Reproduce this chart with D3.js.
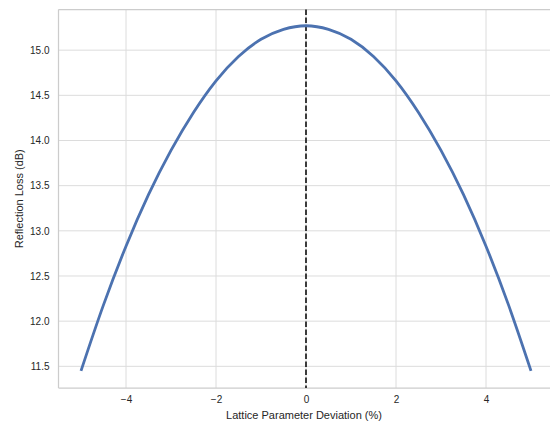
<html>
  <head>
    <meta charset="utf-8">
    <title>reflection loss</title>
    <script src="https://cdn.jsdelivr.net/npm/d3@7"></script>
    <style>
body { margin: 0; background: #fff; }
text { font-family: "Liberation Sans", Arial, sans-serif; fill: #262626; }
.grid line { stroke: #dcdcdc; stroke-width: 1px; }
.spine { stroke: #cccccc; stroke-width: 1.25px; }
    </style>
  </head>
  <body>
    <script>

// values
var deviation = [-5, -4.5, -4, -3.5, -3, -2.5, -2, -1.5, -1, -0.5, 0, 0.5, 1, 1.5, 2, 2.5, 3, 3.5, 4, 4.5, 5];
var loss = [11.45, 12.18, 12.83, 13.40, 13.89, 14.31, 14.66, 14.93, 15.12, 15.23, 15.27,
            15.23, 15.12, 14.93, 14.66, 14.31, 13.89, 13.40, 12.83, 12.18, 11.45];
var xTicks = [-4, -2, 0, 2, 4];
var yTicks = [11.5, 12.0, 12.5, 13.0, 13.5, 14.0, 14.5, 15.0];

var width = 550, height = 423;
var plotL = 58.5, plotR = 553.5, plotT = 9.5, plotB = 388;

var x = d3.scaleLinear().domain([-5.5, 5.5]).range([plotL, plotR]);
var y = d3.scaleLinear().domain([11.26, 15.45]).range([plotB, plotT]);

var svg = d3.select("body").append("svg")
    .attr("width", width)
    .attr("height", height);

// grid
svg.append("g").attr("class", "grid")
  .selectAll("line").data(xTicks).enter().append("line")
    .attr("x1", d => x(d)).attr("x2", d => x(d))
    .attr("y1", plotT).attr("y2", plotB);
svg.append("g").attr("class", "grid")
  .selectAll("line").data(yTicks).enter().append("line")
    .attr("x1", plotL).attr("x2", plotR)
    .attr("y1", d => y(d)).attr("y2", d => y(d));

// spines
svg.append("line").attr("class", "spine").attr("x1", plotL).attr("x2", plotL).attr("y1", plotT).attr("y2", plotB);
svg.append("line").attr("class", "spine").attr("x1", plotL).attr("x2", plotR).attr("y1", plotB).attr("y2", plotB);
svg.append("line").attr("class", "spine").attr("x1", plotL).attr("x2", plotR).attr("y1", plotT).attr("y2", plotT);

// axes
var xAxis = svg.append("g")
    .attr("transform", "translate(0," + plotB + ")")
    .call(d3.axisBottom(x).tickValues(xTicks).tickSize(0).tickPadding(8)
      .tickFormat(d => d < 0 ? "\u2212" + Math.abs(d) : d));
var yAxis = svg.append("g")
    .attr("transform", "translate(" + plotL + ",0)")
    .call(d3.axisLeft(y).tickValues(yTicks).tickSize(0).tickPadding(9).tickFormat(d3.format(".1f")));
[xAxis, yAxis].forEach(function(a) {
  a.select(".domain").remove();
  a.selectAll("text").style("font-size", "10px").attr("fill", "#262626");
});

// dashed line at zero
svg.append("line")
    .attr("x1", x(0)).attr("x2", x(0))
    .attr("y1", plotT).attr("y2", plotB)
    .attr("stroke", "#000").attr("stroke-width", 1.5)
    .attr("stroke-dasharray", "5.5,2.5");

// curve
var line = d3.line()
    .x((d, i) => x(deviation[i]))
    .y(d => y(d))
    .curve(d3.curveMonotoneX);
svg.append("path")
    .datum(loss)
    .attr("d", line)
    .attr("fill", "none")
    .attr("stroke", "#4c72b0")
    .attr("stroke-width", 2.8);

// labels
svg.append("text")
    .attr("x", (plotL + plotR) / 2 - 2).attr("y", 416)
    .attr("text-anchor", "middle").attr("dominant-baseline", "middle")
    .style("font-size", "11px")
    .text("Lattice Parameter Deviation (%)");
svg.append("text")
    .attr("transform", "translate(20," + ((plotT + plotB) / 2) + ") rotate(-90)")
    .attr("text-anchor", "middle").attr("dominant-baseline", "middle")
    .style("font-size", "11px")
    .text("Reflection Loss (dB)");

</script>
  </body>
</html>
